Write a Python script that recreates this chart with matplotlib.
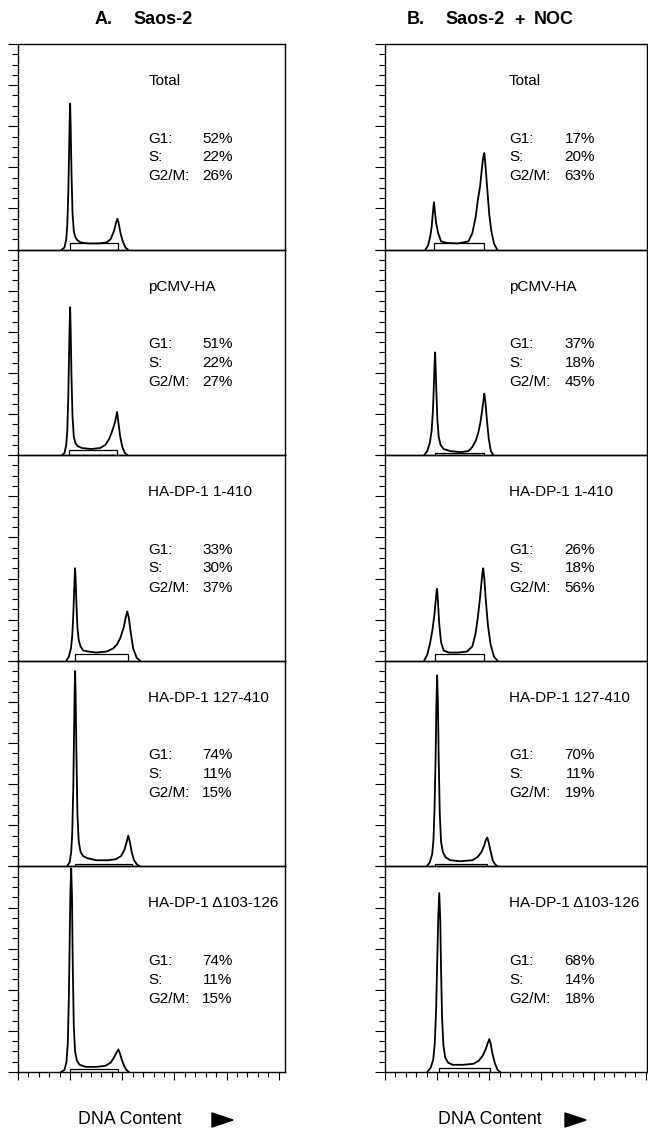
import numpy as np
import matplotlib
matplotlib.use("Agg")
import matplotlib.pyplot as plt
from matplotlib.patches import Rectangle, Polygon
from matplotlib.ticker import MultipleLocator

plt.rcParams['font.family'] = ['Liberation Sans', 'DejaVu Sans']

# panel labels and cell cycle percentages
labels = ["Total", "pCMV-HA", "HA-DP-1 1-410", "HA-DP-1 127-410", "HA-DP-1 \u0394103-126"]
g1_A = [52, 51, 33, 74, 74]
s_A = [22, 22, 30, 11, 11]
g2_A = [26, 27, 37, 15, 15]
g1_B = [17, 37, 26, 70, 68]
s_B = [20, 18, 18, 11, 14]
g2_B = [63, 45, 56, 19, 18]

# histograms: channel, counts (% of full scale)
ch_A1 = [168, 178, 185, 189, 193, 196, 198, 200, 202, 205, 209, 214, 220, 228, 240, 270, 310, 340, 355, 368, 376, 381, 386, 393, 402, 412, 422]
y_A1 = [0, 1, 5, 12, 28, 48, 62, 71, 60, 38, 18, 9, 6, 4.5, 3.5, 3, 3, 3.5, 5, 9, 13, 15, 13, 8, 4, 1, 0]
ch_A2 = [168, 178, 185, 189, 193, 196, 198, 200, 202, 205, 209, 214, 220, 228, 245, 280, 315, 335, 350, 362, 372, 380, 386, 392, 400, 410, 420]
y_A2 = [0, 1, 5, 12, 29, 50, 63, 72, 61, 39, 19, 9, 6, 4.5, 3.5, 3, 3.5, 5, 8, 12, 16, 21, 15, 9, 4, 1, 0]
ch_A3 = [185, 195, 203, 208, 212, 215, 217, 219, 221, 224, 228, 233, 240, 250, 270, 300, 340, 365, 380, 392, 405, 413, 419, 425, 432, 442, 455, 468]
y_A3 = [0, 2, 6, 12, 22, 33, 40, 45, 40, 28, 16, 10, 7, 5, 4.5, 4, 4.5, 6, 8, 11, 16, 21, 24, 21, 14, 6, 1.5, 0]
ch_A4 = [188, 198, 204, 208, 212, 215, 217, 219, 221, 224, 228, 233, 240, 250, 265, 300, 345, 375, 395, 408, 417, 423, 429, 436, 445, 456, 468]
y_A4 = [0, 2, 7, 16, 38, 65, 84, 95, 84, 55, 25, 12, 7, 5, 4, 3, 3, 3.5, 5, 8, 12, 15, 12, 7, 3, 1, 0]
ch_A5 = [165, 178, 186, 191, 195, 198, 201, 204, 207, 210, 214, 219, 226, 236, 260, 300, 335, 355, 368, 378, 385, 391, 398, 407, 416, 425]
y_A5 = [0, 1, 5, 14, 36, 62, 88, 99, 86, 52, 22, 10, 5.5, 3.5, 2.5, 2.5, 3, 4.5, 7, 9.5, 11, 9, 6, 3, 1, 0]

ch_B1 = [155, 165, 173, 179, 183, 186, 188, 191, 196, 204, 215, 240, 280, 320, 335, 348, 356, 365, 372, 377, 381, 386, 392, 400, 408, 418, 430]
y_B1 = [0, 2, 6, 11, 17, 21, 23, 19, 13, 8, 4, 3.2, 3, 4, 8, 16, 24, 31, 40, 45, 47, 40, 30, 17, 9, 3, 0]
ch_B2 = [150, 162, 172, 179, 184, 188, 190, 192, 194, 197, 201, 206, 213, 225, 250, 290, 320, 335, 348, 358, 366, 373, 378, 381, 385, 391, 398, 406, 416]
y_B2 = [0, 2, 6, 12, 22, 36, 44, 50, 44, 31, 17, 9, 5, 3, 2, 1.5, 2, 4, 7, 11, 16, 22, 27, 30, 26, 17, 8, 2, 0]
ch_B3 = [150, 162, 172, 182, 190, 195, 198, 200, 203, 208, 215, 225, 245, 280, 315, 335, 347, 356, 364, 370, 374, 377, 381, 387, 395, 405, 418, 432]
y_B3 = [0, 3, 8, 15, 23, 30, 34, 35, 29, 18, 9, 5, 4, 4, 4.5, 7, 13, 21, 30, 38, 43, 45, 40, 29, 17, 8, 2, 0]
ch_B4 = [160, 172, 181, 186, 190, 194, 197, 200, 203, 206, 210, 215, 222, 232, 250, 290, 335, 355, 370, 380, 387, 392, 397, 404, 413, 422, 432]
y_B4 = [0, 2, 6, 13, 28, 52, 78, 93, 80, 52, 26, 12, 7, 4.5, 3, 2.5, 3, 4.5, 7, 10, 13, 14, 12, 8, 3, 1, 0]
ch_B5 = [162, 175, 185, 191, 196, 200, 204, 208, 212, 215, 219, 224, 231, 242, 260, 300, 340, 360, 375, 386, 394, 400, 405, 412, 422, 432, 442]
y_B5 = [0, 2, 6, 14, 30, 52, 74, 87, 74, 50, 26, 13, 7, 4.5, 3.5, 3.5, 4, 5.5, 8, 11, 14, 16, 14, 9, 4, 1, 0]

# S-phase gate boxes: start channel, end channel, height
gate_A = [(200, 385, 3), (196, 381, 2.5), (219, 423, 3.3), (219, 438, 1.3), (200, 385, 1.5)]
gate_B = [(188, 381, 3), (192, 381, 1), (192, 381, 3.3), (192, 392, 1), (208, 404, 2)]

hist_A = [(ch_A1, y_A1), (ch_A2, y_A2), (ch_A3, y_A3), (ch_A4, y_A4), (ch_A5, y_A5)]
hist_B = [(ch_B1, y_B1), (ch_B2, y_B2), (ch_B3, y_B3), (ch_B4, y_B4), (ch_B5, y_B5)]

W, H = 648, 1129
fig = plt.figure(figsize=(W / 100, H / 100), dpi=100)

row_top = 44
row_h = 205.6
fs = 11


def add_panel(x0, w, xmax, i, hist, gate, g1, s, g2, xlab, xpct):
    top = row_top + i * row_h
    ax = fig.add_axes([x0 / W, 1 - (top + row_h) / H, w / W, row_h / H])
    ax.plot(hist[0], hist[1], color='black', lw=1.3)
    ax.add_patch(Rectangle((gate[0], 0), gate[1] - gate[0], gate[2],
                           fill=False, ec='black', lw=0.9))
    ax.set_xlim(0, xmax)
    ax.set_ylim(0, 100)
    ax.yaxis.set_major_locator(MultipleLocator(20))
    ax.yaxis.set_minor_locator(MultipleLocator(5))
    ax.tick_params(axis='y', which='major', direction='out', length=7.2, width=0.8, labelleft=False)
    ax.tick_params(axis='y', which='minor', direction='out', length=4.3, width=0.8)
    if i == 4:
        ax.xaxis.set_major_locator(MultipleLocator(200))
        ax.xaxis.set_minor_locator(MultipleLocator(40))
        ax.tick_params(axis='x', which='major', direction='out', length=5.8, width=0.8, labelbottom=False)
        ax.tick_params(axis='x', which='minor', direction='out', length=3.6, width=0.8)
    else:
        ax.set_xticks([])
    for sp in ax.spines.values():
        sp.set_linewidth(1.0)
    ax.text(xlab, 82, labels[i], fontsize=fs, va='center', ha='left')
    for yy, name, val in [(54, "G1:", g1[i]), (44.9, "S:", s[i]), (35.6, "G2/M:", g2[i])]:
        ax.text(xlab, yy, name, fontsize=fs, va='center', ha='left')
        ax.text(xpct, yy, f"{val}%", fontsize=fs, va='center', ha='right')
    ax.patch.set_alpha(0)
    return ax


for i in range(5):
    add_panel(18, 267, 1024, i, hist_A[i], gate_A[i], g1_A, s_A, g2_A, 500, 823)
    add_panel(385, 262, 1005, i, hist_B[i], gate_B[i], g1_B, s_B, g2_B, 476, 806)


def ftext(px, py, s, **kw):
    fig.text(px / W, 1 - py / H, s, **kw)


# column headings
ftext(95, 20, "A.", fontsize=13, fontweight='bold', va='center')
ftext(133, 20, "Saos-2", fontsize=13, fontweight='bold', va='center')
ftext(407, 20, "B.", fontsize=13, fontweight='bold', va='center')
ftext(445, 20, "Saos-2", fontsize=13, fontweight='bold', va='center')
ftext(514, 20, "+", fontsize=13, fontweight='bold', va='center')
ftext(534, 20, "NOC", fontsize=13, fontweight='bold', va='center')

# x-axis captions with arrow heads
for xt, xa in [(78, 212), (438, 565)]:
    ftext(xt, 1120, "DNA Content", fontsize=12.8, va='center')
    tri = Polygon([[xa / W, 1 - 1113 / H], [xa / W, 1 - 1127 / H], [(xa + 21) / W, 1 - 1120 / H]],
                  closed=True, transform=fig.transFigure, fc='black', ec='black')
    fig.patches.append(tri)

fig.savefig("out.png", dpi=100)
